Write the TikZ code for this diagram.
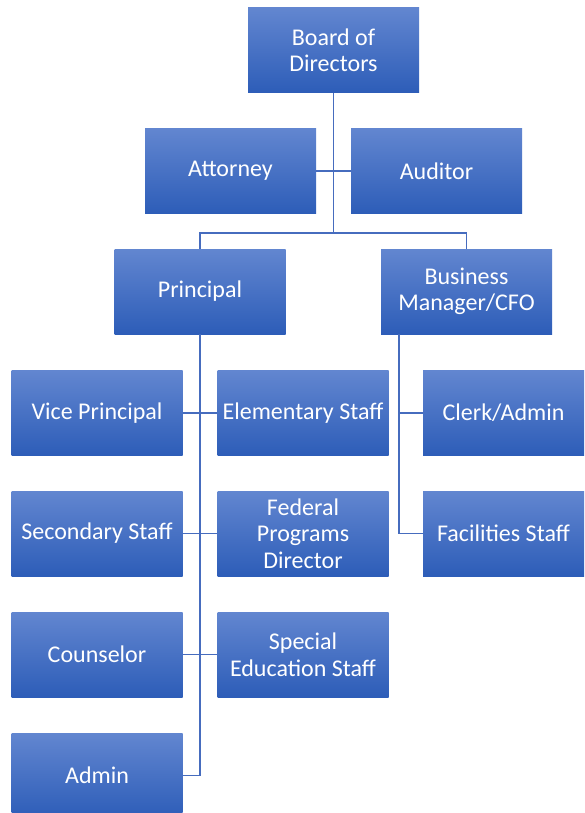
\documentclass[tikz,border=0pt]{standalone}
\usepackage{fontspec}
\setmainfont{Carlito}
\definecolor{boxtop}{RGB}{98,134,208}
\definecolor{boxbot}{RGB}{45,93,184}
\definecolor{linkblue}{RGB}{70,108,190}
\begin{document}
\begin{tikzpicture}
  [x=1pt,y=-1pt,
   every node/.style={rectangle,top color=boxtop,bottom color=boxbot,text=white,
     minimum width=171pt,minimum height=85pt,inner sep=0pt,align=center,
     font=\fontsize{24}{26.5}\selectfont},
   link/.style={draw=linkblue,line width=1.3pt}]
    \useasboundingbox (0,0) rectangle (584,813);
    \clip (0,0) rectangle (584,813);

    % top of the chart
    \node (board) at (333.5,50.5) {Board of\\Directors};
    \node (att)   at (230.5,171)  {Attorney};
    \node (aud)   at (436.5,171)  {Auditor};
    \node (prin)  at (200,291.5)  {Principal};
    \node (bm)    at (466.5,291.5){Business\\Manager/CFO};

    % staff under the principal
    \node (vp)    at (97,413)     {Vice Principal};
    \node (elem)  at (303,413)    {Elementary Staff};
    \node (sec)   at (97,533.5)   {Secondary Staff};
    \node (fed)   at (303,533.5)  {Federal\\Programs\\Director};
    \node (couns) at (97,654.5)   {Counselor};
    \node (sped)  at (303,654.5)  {Special\\Education Staff};
    \node (admin) at (97,775.5)   {Admin};

    % staff under the business manager
    \node (clerk) [minimum width=161pt] at (503.5,413)   {Clerk/Admin};
    \node (fac)   [minimum width=161pt] at (503.5,533.5) {Facilities Staff};

    \coordinate (bus)   at (333.5,233);
    \coordinate (bmtap) at (399,334);

    \draw[link] (board.south) -- (bus);
    \draw[link] (att.east) -- (aud.west);
    \draw[link] (prin.north) |- (bus) -| (bm.north);
    \draw[link] (prin.south) |- (admin.east);
    \foreach \from/\to in {vp/elem,sec/fed,couns/sped}
      \draw[link] (\from.east) -- (\to.west);
    \draw[link] (bmtap) |- (fac.west);
    \draw[link] (clerk.west) -- (clerk.west -| bmtap);
  \end{tikzpicture}
\end{document}
